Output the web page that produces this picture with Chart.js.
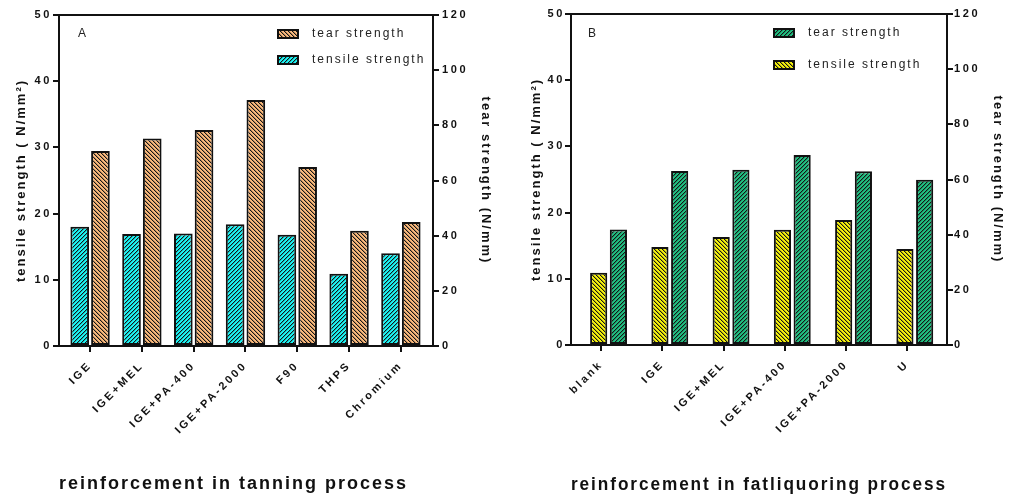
<!DOCTYPE html>
<html>
<head>
<meta charset="utf-8">
<script src="https://cdn.jsdelivr.net/npm/chart.js@4.4.1/dist/chart.umd.min.js"></script>
<style>
  html, body { margin: 0; padding: 0; background: #ffffff; }
  #wrap { position: relative; width: 1009px; height: 499px; background: #ffffff; }
  .panel { position: absolute; top: 0; height: 499px; }
</style>
</head>
<body>
<div id="wrap">
  <div class="panel" style="left:0;width:505px;"><canvas id="chartA"></canvas></div>
  <div class="panel" style="left:505px;width:504px;"><canvas id="chartB"></canvas></div>
</div>
<script>
// ---------------- data ----------------
const tanningCategories = ['IGE', 'IGE+MEL', 'IGE+PA-400', 'IGE+PA-2000', 'F90', 'THPS', 'Chromium'];
const tanningTensile = [18.0, 16.9, 17.0, 18.4, 16.8, 10.9, 14.0];
const tanningTear = [70.7, 75.2, 78.3, 89.2, 64.9, 41.8, 45.0];

const fatCategories = ['blank', 'IGE', 'IGE+MEL', 'IGE+PA-400', 'IGE+PA-2000', 'U'];
const fatTensile = [10.9, 14.8, 16.3, 17.4, 18.9, 14.5];
const fatTear = [41.9, 63.1, 63.5, 68.9, 63.0, 59.9];

const tensileTicks = [0, 10, 20, 30, 40, 50];
const tearTicks = [0, 20, 40, 60, 80, 100, 120];

// ---------------- styling helpers ----------------
const FONT = "'Liberation Sans', Arial, Helvetica, sans-serif";
const INK = '#111111';
const SPACING = { 10: '3px', 11: '2.6px', 12: '2px', 13: '2px', 18: '2px' };

function hatch(bg, dir) {
  const s = 4;
  const c = document.createElement('canvas');
  c.width = s; c.height = s;
  const g = c.getContext('2d');
  g.fillStyle = bg; g.fillRect(0, 0, s, s);
  for (let y = 0; y < s; y++) {
    const x = dir === '/' ? (s - 1 - y) : y;
    g.fillStyle = '#151515';
    g.fillRect(x, y, 1, 1);
    g.fillStyle = 'rgba(20,20,20,0.3)';
    g.fillRect((x + 1) % s, y, 1, 1);
  }
  return g.createPattern(c, 'repeat');
}

function swatch(pattern) {
  const c = document.createElement('canvas');
  c.width = 29; c.height = 12;
  const g = c.getContext('2d');
  g.fillStyle = pattern; g.fillRect(0, 1, 22, 10);
  g.strokeStyle = INK; g.lineWidth = 2; g.strokeRect(1, 2, 20, 8);
  return c;
}

const spacingPlugin = {
  id: 'spacing',
  beforeInit(chart) {
    const ctx = chart.ctx;
    const d = Object.getOwnPropertyDescriptor(CanvasRenderingContext2D.prototype, 'font');
    Object.defineProperty(ctx, 'font', {
      configurable: true,
      get() { return d.get.call(this); },
      set(v) {
        d.set.call(this, v);
        const m = /(\d+(?:\.\d+)?)px/.exec(v);
        this.letterSpacing = (m && SPACING[Math.round(+m[1])]) || '0px';
      }
    });
  }
};

const panelPlugin = {
  id: 'panel',
  afterLayout(chart, args, opts) {
    const lg = chart.legend;
    const ca = chart.chartArea;
    if (lg) {
      lg.left = Math.round(ca.left + opts.legendX - opts.legendPad);
      lg.top = opts.legendTop;
      lg.right = lg.left + lg.width;
      lg.bottom = lg.top + lg.height;
    }
  },
  afterDraw(chart, args, opts) {
    const { ctx, chartArea } = chart;
    ctx.save();
    ctx.font = '12px ' + FONT;
    ctx.fillStyle = '#222222';
    ctx.textBaseline = 'middle';
    ctx.textAlign = 'left';
    ctx.fillText(opts.text, chartArea.left + opts.dx, chartArea.top + opts.dy);
    ctx.restore();
  }
};

function buildChart(id, cats, tensile, tear, tensileColor, tensileDir, tearColor, tearDir, L) {
  const tensilePattern = hatch(tensileColor, tensileDir);
  const tearPattern = hatch(tearColor, tearDir);
  const swatches = [swatch(tensilePattern), swatch(tearPattern)];

  const gridOpts = { display: true, offset: false, drawOnChartArea: false, drawTicks: true, tickLength: 6, tickWidth: 2, tickColor: INK, lineWidth: 2, color: INK };
  const borderOpts = { display: true, color: INK, width: 2 };
  const tickFont = { family: FONT, size: 11, weight: 'bold' };
  const titleFont = { family: FONT, size: 13, weight: 'bold' };

  return new Chart(document.getElementById(id), {
    type: 'bar',
    data: {
      datasets: [
        {
          label: 'tensile strength',
          data: tensile.map((v, i) => ({ x: i, y: v })),
          yAxisID: 'y',
          backgroundColor: tensilePattern,
          borderColor: INK,
          borderWidth: 2,
          borderSkipped: false,
          categoryPercentage: L.catPct,
          barPercentage: L.barPct
        },
        {
          label: 'tear strength',
          data: tear.map((v, i) => ({ x: i, y: v })),
          yAxisID: 'y1',
          backgroundColor: tearPattern,
          borderColor: INK,
          borderWidth: 2,
          borderSkipped: false,
          categoryPercentage: L.catPct,
          barPercentage: L.barPct
        }
      ]
    },
    options: {
      responsive: true,
      maintainAspectRatio: false,
      animation: false,
      events: [],
      layout: { padding: 0 },
      scales: {
        x: {
          type: 'linear',
          position: 'bottom',
          min: L.xmin,
          max: L.xmax,
          bounds: 'data',
          offset: false,
          afterBuildTicks: s => { s.ticks = cats.map((c, i) => ({ value: i + L.tickShift })); },
          afterFit: s => { s.height = L.bottomH; },
          ticks: {
            autoSkip: false, maxRotation: 45, minRotation: 45,
            font: { family: FONT, size: 11, weight: 'bold' }, color: INK, padding: 7,
            callback: (v, i) => cats[i]
          },
          grid: gridOpts,
          border: borderOpts,
          title: {
            display: true, text: L.xTitle, align: 'start',
            font: { family: FONT, size: 18, weight: 'bold' }, color: INK,
            padding: { top: 0, bottom: L.xTitlePad }
          }
        },
        xTop: {
          type: 'linear',
          position: 'top',
          display: true,
          min: 0, max: 1,
          afterFit: s => { s.height = L.top; },
          ticks: { display: false },
          grid: { display: true, drawOnChartArea: false, drawTicks: false },
          border: borderOpts
        },
        y: {
          type: 'linear',
          position: 'left',
          min: 0, max: 50,
          afterBuildTicks: s => { s.ticks = tensileTicks.map(v => ({ value: v })); },
          afterFit: s => { s.width = L.leftW; },
          ticks: { font: tickFont, color: INK, padding: L.leftTickPad, callback: v => String(v) },
          grid: gridOpts,
          border: borderOpts,
          title: { display: true, text: 'tensile strength ( N/mm²)', font: titleFont, color: INK, padding: { top: L.leftTitlePad, bottom: 0 } }
        },
        y1: {
          type: 'linear',
          position: 'right',
          min: 0, max: 120,
          afterBuildTicks: s => { s.ticks = tearTicks.map(v => ({ value: v })); },
          afterFit: s => { s.width = L.rightW; },
          ticks: { font: tickFont, color: INK, padding: L.rightTickPad, callback: v => String(v) },
          grid: gridOpts,
          border: borderOpts,
          title: { display: true, text: 'tear strength (N/mm)', font: titleFont, color: INK, padding: { top: L.rightTitlePad, bottom: 0 } }
        }
      },
      plugins: {
        tooltip: { enabled: false },
        legend: {
          display: true,
          position: 'chartArea',
          align: 'start',
          reverse: true,
          labels: {
            usePointStyle: true,
            pointStyleWidth: 29,
            boxHeight: 10,
            padding: L.legendPad,
            color: '#222222',
            font: { family: FONT, size: 12 },
            generateLabels(chart) {
              const items = Chart.defaults.plugins.legend.labels.generateLabels(chart);
              items.forEach(it => { it.pointStyle = swatches[it.datasetIndex]; });
              return items;
            }
          }
        },
        panel: { text: L.panel, dx: L.panelDx, dy: L.panelDy, legendX: L.legendX, legendTop: L.legendTop, legendPad: L.legendPad }
      }
    },
    plugins: [spacingPlugin, panelPlugin]
  });
}

buildChart('chartA', tanningCategories, tanningTensile, tanningTear,
  '#1CF4F4', '/', '#FAB97C', '\\', {
    leftW: 59, rightW: 72, top: 15, bottomH: 153,
    xmin: -0.6, xmax: 6.62, tickShift: 0,
    leftTickPad: 1, rightTickPad: 3, leftTitlePad: 13.7, rightTitlePad: 11.2,
    xTitle: 'reinforcement in tanning process', xTitlePad: 4,
    catPct: 0.8, barPct: 0.9,
    legendX: 218, legendTop: 14, legendPad: 14,
    panel: 'A', panelDx: 19, panelDy: 19
  });

buildChart('chartB', fatCategories, fatTensile, fatTear,
  '#F6F20C', '\\', '#20BE80', '/', {
    leftW: 66, rightW: 62, top: 14, bottomH: 154,
    xmin: -0.613, xmax: 5.526, tickShift: -0.12,
    leftTickPad: 0, rightTickPad: 1, leftTitlePad: 23.6, rightTitlePad: 3.6,
    xTitle: 'reinforcement in fatliquoring process', xTitlePad: 3,
    catPct: 0.644, barPct: 0.87,
    legendX: 202, legendTop: 7, legendPad: 20,
    panel: 'B', panelDx: 17, panelDy: 20
  });
</script>
</body>
</html>
